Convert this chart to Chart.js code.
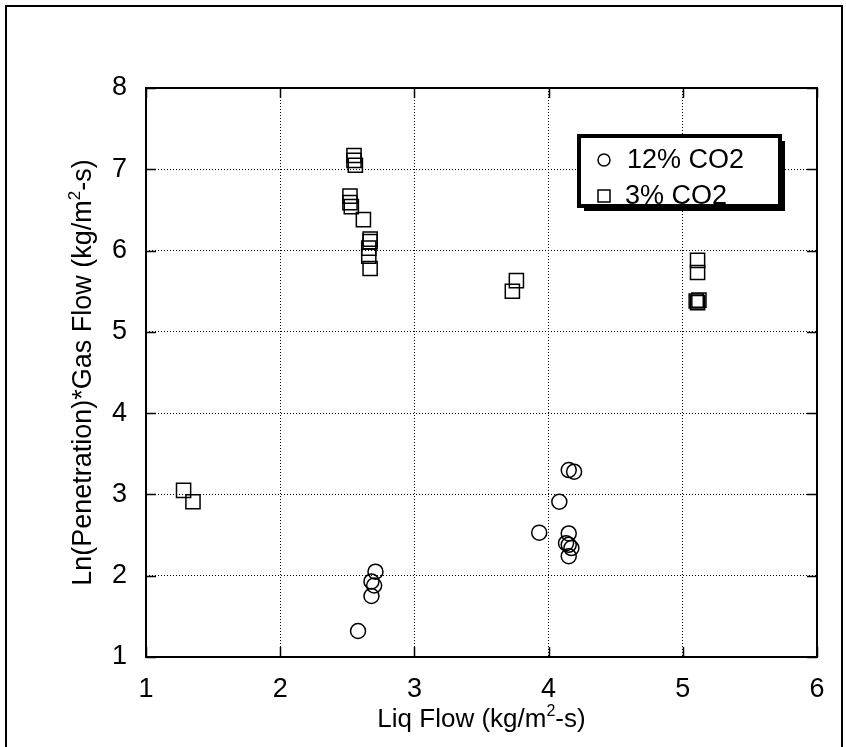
<!DOCTYPE html>
<html>
<head>
<meta charset="utf-8">
<script src="https://cdn.jsdelivr.net/npm/chart.js@4.4.0/dist/chart.umd.min.js"></script>
<style>
  html, body { margin: 0; padding: 0; background: #fff; }
  #wrap { width: 846px; height: 747px; }
</style>
</head>
<body>
<div id="wrap"><canvas id="myChart" width="846" height="747"></canvas></div>
<script>
// 12% CO2 series (circles)
var liq12 = [2.58, 2.68, 2.68, 2.70, 2.71, 3.93, 4.08, 4.15, 4.19, 4.15, 4.13, 4.15, 4.17, 4.15];
var pen12 = [1.32, 1.75, 1.93, 1.88, 2.05, 2.53, 2.91, 3.30, 3.28, 2.52, 2.40, 2.38, 2.34, 2.24];

// 3% CO2 series (squares)
var liq3 = [1.28, 1.35, 2.55, 2.55, 2.56, 2.52, 2.52, 2.53, 2.62, 2.67, 2.67, 2.66, 2.66, 2.67,
            3.73, 3.76, 5.11, 5.11, 5.10, 5.11, 5.12];
var pen3 = [3.05, 2.91, 7.17, 7.11, 7.05, 6.67, 6.59, 6.54, 6.38, 6.14, 6.11, 6.03, 5.93, 5.78,
            5.50, 5.63, 5.88, 5.73, 5.38, 5.36, 5.39];

var seriesNames = ['12% CO2', '3% CO2'];
var xTicks = [1, 2, 3, 4, 5, 6];
var yTicks = [1, 2, 3, 4, 5, 6, 7, 8];

function toPoints(xs, ys) {
  return xs.map(function (x, i) { return { x: x, y: ys[i] }; });
}

var FONT = 'Liberation Sans, Arial, sans-serif';
var ctx = document.getElementById('myChart').getContext('2d');

// white page + outer frame
const pageFrame = {
  id: 'pageFrame',
  beforeDraw(chart) {
    const c = chart.ctx;
    c.save();
    c.fillStyle = '#fff';
    c.fillRect(0, 0, chart.width, chart.height);
    c.strokeStyle = '#000';
    c.lineWidth = 2;
    c.strokeRect(6, 6, chart.width - 10, chart.height + 20);
    c.restore();
  }
};

// plot box, inward ticks on all four sides, axis titles, legend box
const plotDecor = {
  id: 'plotDecor',
  afterDraw(chart) {
    const c = chart.ctx;
    const { left, right, top, bottom } = chart.chartArea;
    const xs = chart.scales.x, ys = chart.scales.y;
    c.save();
    c.strokeStyle = '#000';
    c.lineWidth = 2;
    c.strokeRect(left, top, right - left, bottom - top);

    c.lineWidth = 1.5;
    c.beginPath();
    xTicks.forEach(function (v) {
      const px = Math.round(xs.getPixelForValue(v)) + 0.5;
      c.moveTo(px, bottom); c.lineTo(px, bottom - 10);
      c.moveTo(px, top); c.lineTo(px, top + 10);
    });
    yTicks.forEach(function (v) {
      const py = Math.round(ys.getPixelForValue(v)) + 0.5;
      c.moveTo(left, py); c.lineTo(left + 10, py);
      c.moveTo(right, py); c.lineTo(right - 10, py);
    });
    c.stroke();

    // x title with superscript
    c.fillStyle = '#000';
    drawSup(c, ['Liq Flow (kg/m', '2', '-s)'], (left + right) / 2, 727, 26);

    // y title, rotated
    c.save();
    c.translate(91, (top + bottom) / 2);
    c.rotate(-Math.PI / 2);
    drawSup(c, ['Ln(Penetration)*Gas Flow (kg/m', '2', '-s)'], 0, 0, 27);
    c.restore();

    // legend box
    const bx = 579, by = 136, bw = 201, bh = 70;
    c.fillStyle = '#000';
    c.fillRect(bx + 5, by + 5, bw, bh);
    c.fillStyle = '#fff';
    c.fillRect(bx, by, bw, bh);
    c.strokeStyle = '#000';
    c.lineWidth = 4;
    c.strokeRect(bx, by, bw, bh);

    c.lineWidth = 1.5;
    c.beginPath();
    c.arc(604, 160, 6, 0, Math.PI * 2);
    c.stroke();
    c.strokeRect(598, 190, 12, 12);

    c.fillStyle = '#000';
    c.font = '27px ' + FONT;
    c.textAlign = 'left';
    c.textBaseline = 'middle';
    c.fillText(seriesNames[0], 627, 161);
    c.fillText(seriesNames[1], 625, 197);
    c.restore();
  }
};

// draws text with a raised small part, centred on cx, baseline at y
function drawSup(c, parts, cx, y, size) {
  const small = Math.round(size * 0.62);
  c.font = size + 'px ' + FONT;
  const w0 = c.measureText(parts[0]).width;
  const w2 = c.measureText(parts[2]).width;
  c.font = small + 'px ' + FONT;
  const w1 = c.measureText(parts[1]).width;
  let x = cx - (w0 + w1 + w2) / 2;
  c.textAlign = 'left';
  c.textBaseline = 'alphabetic';
  c.font = size + 'px ' + FONT;
  c.fillText(parts[0], x, y);
  x += w0;
  c.font = small + 'px ' + FONT;
  c.fillText(parts[1], x, y - size * 0.42);
  x += w1;
  c.font = size + 'px ' + FONT;
  c.fillText(parts[2], x, y);
}

var chart1 = new Chart(ctx, {
  type: 'scatter',
  data: {
    datasets: [
      {
        label: seriesNames[0],
        data: toPoints(liq12, pen12),
        pointStyle: 'circle',
        pointRadius: 7.5,
        pointBorderWidth: 1.5,
        borderColor: '#000',
        backgroundColor: 'rgba(0,0,0,0)',
        pointBackgroundColor: 'rgba(0,0,0,0)'
      },
      {
        label: seriesNames[1],
        data: toPoints(liq3, pen3),
        pointStyle: 'rect',
        pointRadius: 10,
        pointBorderWidth: 1.5,
        borderColor: '#000',
        backgroundColor: 'rgba(0,0,0,0)',
        pointBackgroundColor: 'rgba(0,0,0,0)'
      }
    ]
  },
  options: {
    responsive: false,
    animation: false,
    layout: { padding: { top: 88, right: 29, left: 0, bottom: 0 } },
    plugins: {
      legend: { display: false },
      tooltip: { enabled: false }
    },
    scales: {
      x: {
        type: 'linear',
        min: 1, max: 6,
        afterFit: function (s) { s.height = 90; },
        afterBuildTicks: function (s) { s.ticks = xTicks.map(function (v) { return { value: v }; }); },
        grid: { color: '#000', lineWidth: 1, drawTicks: false },
        border: { display: false, dash: [1, 2] },
        ticks: { color: '#000', font: { family: FONT, size: 27 }, padding: 16 }
      },
      y: {
        type: 'linear',
        min: 1, max: 8,
        afterFit: function (s) { s.width = 146; },
        afterBuildTicks: function (s) { s.ticks = yTicks.map(function (v) { return { value: v }; }); },
        grid: { color: '#000', lineWidth: 1, drawTicks: false },
        border: { display: false, dash: [1, 2] },
        ticks: { color: '#000', font: { family: FONT, size: 27 }, padding: 19 }
      }
    }
  },
  plugins: [pageFrame, plotDecor]
});
</script>
</body>
</html>
